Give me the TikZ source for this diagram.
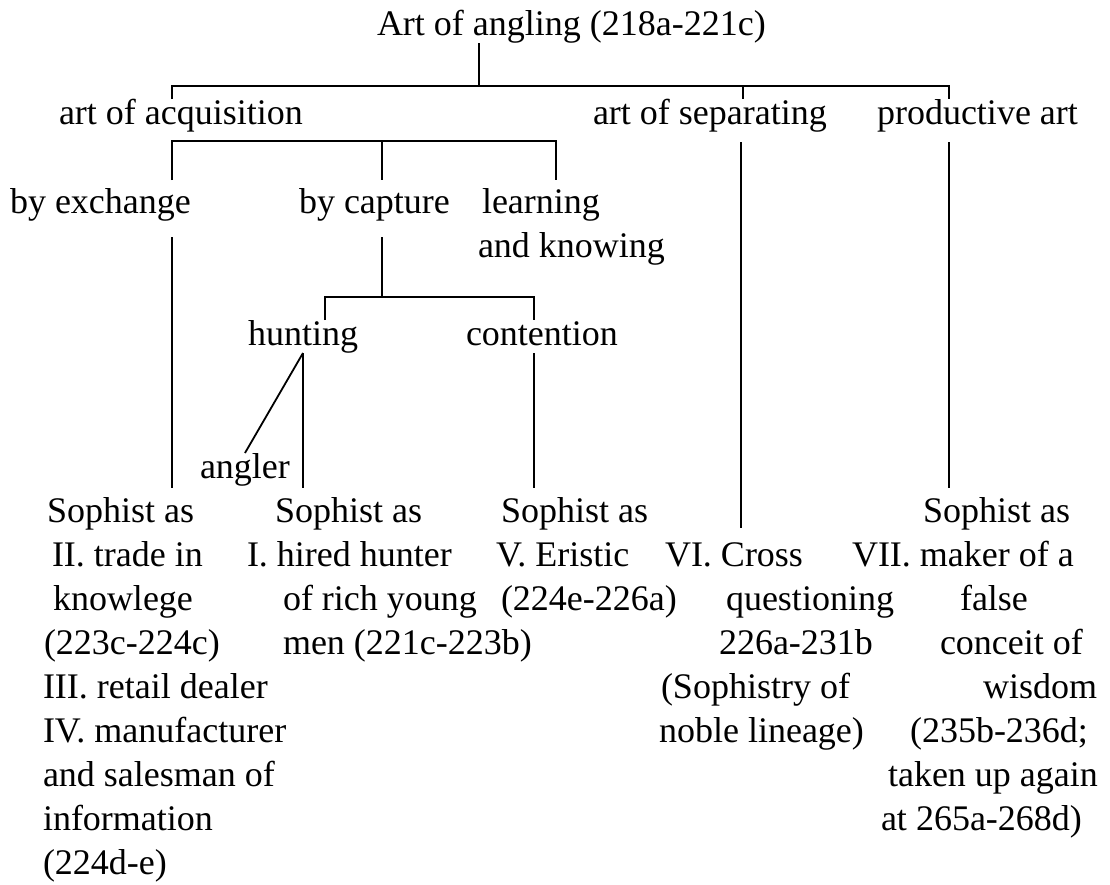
\documentclass[tikz,border=0pt]{standalone}
\usepackage{fontspec}
\setmainfont{Liberation Serif}
\begin{document}
\begin{tikzpicture}[x=1pt,y=-1pt,
    txt/.style={anchor=base west,inner sep=0pt,outer sep=0pt,
      text height=25pt,text depth=8pt,font=\fontsize{36}{44}\selectfont},
    tree/.style={line width=1.8pt}]
\useasboundingbox (0,0) rectangle (1110,884);
% the divisions
\node[txt] (root) at (377,35) {Art of angling (218a-221c)};
\node[txt] (acq) at (59,124) {art of acquisition};
\node[txt] (sep) at (593,124) {art of separating};
\node[txt] (prod) at (877,124) {productive art};
\node[txt] (exch) at (10,213) {by exchange};
\node[txt] (capt) at (299,213) {by capture};
\node[txt] (learn) at (482,213) {learning};
\node[txt] (learnb) at (478,257) {and knowing};
\node[txt] (hunt) at (248,345) {hunting};
\node[txt] (cont) at (466,345) {contention};
\node[txt] (angler) at (200,478) {angler};
% the seven sophists
\foreach \x/\t [count=\i] in {47/Sophist as, 52/II. trade in, 53/knowlege,
    44/(223c-224c), 43/III. retail dealer, 43/IV. manufacturer,
    43/and salesman of, 43/information, 43/(224d-e)}
  \node[txt] (a\i) at (\x,478+44*\i) {\t};
\foreach \x/\t [count=\i] in {275/Sophist as, 247/I. hired hunter,
    283/of rich young, 283/men (221c-223b)}
  \node[txt] (b\i) at (\x,478+44*\i) {\t};
\foreach \x/\t [count=\i] in {501/Sophist as, 496/V. Eristic, 501/(224e-226a)}
  \node[txt] (c\i) at (\x,478+44*\i) {\t};
\foreach \x/\t [count=\i from 2] in {665/VI. Cross, 726/questioning,
    719/226a-231b, 661/(Sophistry of, 659/noble lineage)}
  \node[txt] (d\i) at (\x,478+44*\i) {\t};
\foreach \x/\t [count=\i] in {923/Sophist as, 852/VII. maker of a, 960/false,
    940/conceit of, 983/wisdom, 910/(235b-236d;, 888/taken up again,
    881/at 265a-268d)}
  \node[txt] (e\i) at (\x,478+44*\i) {\t};
% brackets
\coordinate (j0) at (479,86);
\coordinate (j1) at (172,86);
\coordinate (j2) at (743,86);
\coordinate (j3) at (949,86);
\draw[tree] (root.south -| j0) -- (j0);
\draw[tree] (acq.north -| j1) |- (j0) -| (prod.north -| j3);
\draw[tree] (j2) -- (sep.north -| j2);
\coordinate (k1) at (172,141);
\coordinate (k2) at (382,141);
\coordinate (k3) at (556,141);
\draw[tree,shorten <=8pt,shorten >=8pt] (exch.north -| k1) |- (k2) -| (learn.north -| k3);
\draw[tree,shorten >=8pt] (k2) -- (capt.north -| k2);
\coordinate (h0) at (382,297);
\coordinate (h1) at (325,297);
\coordinate (h2) at (534,297);
\draw[tree,shorten <=16pt] (capt.south -| k2) -- (h0);
\draw[tree] (hunt.north -| h1) |- (h0) -| (cont.north -| h2);
\draw[tree] (hunt.south) -- (angler.north);
% down to the sophists
\coordinate (s0) at (741,0);
\draw[tree,shorten <=16pt,shorten >=9pt] (exch.south -| k1) -- (a1.north -| k1);
\draw[tree,shorten >=9pt] (hunt.south) -- (b1.north -| hunt.south);
\draw[tree,shorten >=9pt] (cont.south -| h2) -- (c1.north -| h2);
\draw[tree,shorten <=10pt,shorten >=13pt] (sep.south -| s0) -- (d2.north -| s0);
\draw[tree,shorten <=10pt,shorten >=9pt] (prod.south -| j3) -- (e1.north -| j3);
\end{tikzpicture}
\end{document}
